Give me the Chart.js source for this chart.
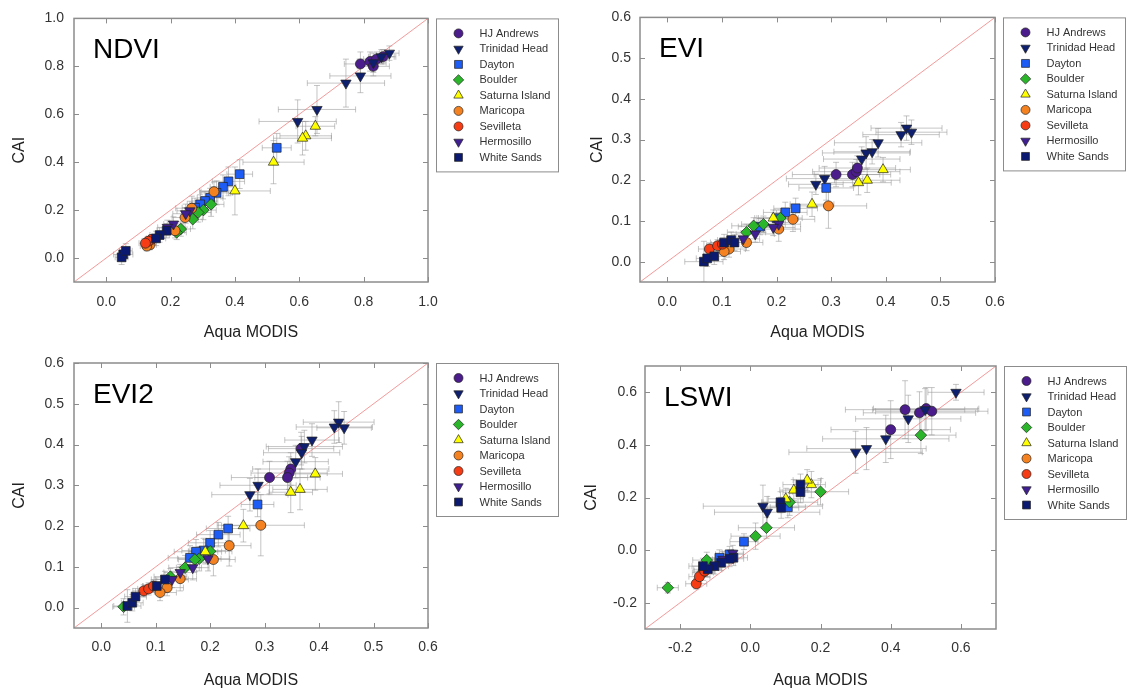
<!DOCTYPE html>
<html>
<head>
<meta charset="utf-8">
<script src="https://cdn.jsdelivr.net/npm/chart.js@4.4.1/dist/chart.umd.min.js"></script>
<style>
  html, body { margin: 0; padding: 0; background: #fff; }
  body { width: 1129px; height: 695px; position: relative; overflow: hidden; }
  canvas { position: absolute; }
</style>
</head>
<body>
<canvas id="ndvi" width="565" height="340" style="left:0;top:0"></canvas>
<canvas id="evi" width="564" height="340" style="left:565px;top:0"></canvas>
<canvas id="evi2" width="565" height="355" style="left:0;top:340px"></canvas>
<canvas id="lswi" width="564" height="355" style="left:565px;top:340px"></canvas>
<script>
// sites, legend order
const sites = ['HJ Andrews', 'Trinidad Head', 'Dayton', 'Boulder', 'Saturna Island',
               'Maricopa', 'Sevilleta', 'Hermosillo', 'White Sands'];
const siteColors = ['#4b1d8c', '#0d1f6e', '#1d5cf5', '#2bb52b', '#ffff00',
                    '#f58220', '#f53c14', '#3f1f91', '#0b1a70'];
const siteShapes = ['circle', 'triangleDown', 'rect', 'rectRot', 'triangle',
                    'circle', 'circle', 'triangleDown', 'rect'];

// each point: [Aqua MODIS, CAI, x error, y error], one list per site (same order as sites)
const ndvi = [
  [[0.79,0.81,0.05,0.05],[0.82,0.82,0.04,0.04],[0.83,0.80,0.05,0.04],[0.84,0.83,0.04,0.03],[0.86,0.84,0.04,0.03]],
  [[0.88,0.855,0.03,0.03],[0.855,0.84,0.04,0.03],[0.83,0.815,0.04,0.04],[0.79,0.76,0.095,0.07],[0.745,0.73,0.12,0.10],[0.655,0.62,0.12,0.10],[0.595,0.57,0.12,0.09]],
  [[0.53,0.46,0.045,0.06],[0.415,0.35,0.04,0.06],[0.38,0.32,0.05,0.06],[0.363,0.297,0.04,0.05],[0.343,0.272,0.05,0.05],[0.323,0.251,0.04,0.04],[0.307,0.238,0.04,0.04],[0.292,0.224,0.04,0.04],[0.276,0.21,0.04,0.04]],
  [[0.326,0.224,0.04,0.05],[0.302,0.2,0.04,0.04],[0.286,0.19,0.04,0.04],[0.269,0.162,0.03,0.04],[0.232,0.121,0.03,0.03],[0.219,0.107,0.03,0.03]],
  [[0.65,0.55,0.06,0.04],[0.62,0.51,0.08,0.06],[0.61,0.50,0.09,0.07],[0.52,0.40,0.095,0.09],[0.40,0.28,0.11,0.10]],
  [[0.335,0.277,0.04,0.04],[0.266,0.208,0.05,0.05],[0.245,0.169,0.04,0.04],[0.214,0.114,0.03,0.03],[0.136,0.055,0.02,0.02],[0.126,0.05,0.02,0.02]],
  [[0.141,0.078,0.02,0.02],[0.131,0.07,0.02,0.02],[0.122,0.062,0.02,0.02]],
  [[0.26,0.197,0.04,0.04],[0.247,0.185,0.04,0.04],[0.209,0.142,0.03,0.03],[0.19,0.128,0.03,0.03]],
  [[0.188,0.114,0.03,0.03],[0.166,0.096,0.03,0.03],[0.155,0.082,0.03,0.03],[0.053,0.015,0.03,0.03],[0.048,0.003,0.02,0.03],[0.061,0.03,0.02,0.03]]
];
const evi = [
  [[0.309,0.214,0.08,0.03],[0.339,0.214,0.07,0.03],[0.346,0.221,0.08,0.03],[0.348,0.23,0.07,0.03]],
  [[0.438,0.328,0.065,0.03],[0.447,0.318,0.065,0.03],[0.428,0.312,0.07,0.03],[0.386,0.292,0.08,0.035],[0.375,0.27,0.07,0.03],[0.364,0.267,0.08,0.04],[0.356,0.252,0.07,0.03],[0.288,0.204,0.07,0.03],[0.272,0.19,0.05,0.025]],
  [[0.291,0.181,0.05,0.03],[0.235,0.131,0.04,0.025],[0.216,0.121,0.04,0.025],[0.2,0.107,0.04,0.02],[0.17,0.086,0.04,0.02]],
  [[0.207,0.107,0.04,0.02],[0.176,0.092,0.04,0.02],[0.158,0.088,0.04,0.02],[0.145,0.072,0.035,0.02]],
  [[0.395,0.226,0.05,0.03],[0.366,0.2,0.06,0.03],[0.35,0.194,0.06,0.03],[0.265,0.141,0.04,0.03],[0.194,0.107,0.03,0.02]],
  [[0.295,0.137,0.07,0.055],[0.23,0.104,0.04,0.03],[0.204,0.08,0.04,0.03],[0.145,0.047,0.03,0.02],[0.113,0.031,0.03,0.02],[0.104,0.025,0.03,0.02]],
  [[0.077,0.031,0.02,0.015],[0.092,0.039,0.02,0.015],[0.101,0.043,0.02,0.015]],
  [[0.204,0.092,0.04,0.02],[0.194,0.084,0.04,0.02],[0.161,0.068,0.035,0.02],[0.139,0.056,0.03,0.02]],
  [[0.067,0.0,0.035,0.05],[0.073,0.008,0.02,0.02],[0.086,0.013,0.02,0.02],[0.104,0.047,0.025,0.02],[0.117,0.053,0.025,0.02],[0.123,0.047,0.025,0.02]]
];
const evi2 = [
  [[0.367,0.39,0.06,0.04],[0.348,0.34,0.07,0.04],[0.345,0.33,0.07,0.04],[0.342,0.319,0.06,0.04],[0.309,0.319,0.07,0.04]],
  [[0.436,0.455,0.065,0.05],[0.428,0.443,0.07,0.04],[0.446,0.441,0.05,0.04],[0.387,0.411,0.05,0.04],[0.373,0.395,0.07,0.04],[0.368,0.38,0.07,0.04],[0.357,0.358,0.06,0.04],[0.288,0.3,0.07,0.04],[0.273,0.277,0.07,0.04]],
  [[0.287,0.253,0.03,0.03],[0.233,0.194,0.04,0.03],[0.215,0.179,0.04,0.03],[0.2,0.159,0.04,0.03],[0.188,0.14,0.04,0.03],[0.174,0.137,0.04,0.03],[0.163,0.122,0.04,0.03]],
  [[0.2,0.138,0.04,0.03],[0.18,0.12,0.04,0.03],[0.172,0.118,0.03,0.03],[0.154,0.098,0.03,0.03],[0.127,0.076,0.03,0.02],[0.041,0.002,0.02,0.02]],
  [[0.393,0.328,0.05,0.04],[0.365,0.29,0.05,0.05],[0.348,0.283,0.04,0.05],[0.261,0.201,0.04,0.04],[0.191,0.137,0.03,0.03]],
  [[0.293,0.202,0.08,0.075],[0.235,0.152,0.04,0.05],[0.206,0.118,0.04,0.04],[0.145,0.071,0.03,0.03],[0.121,0.049,0.03,0.02],[0.108,0.037,0.03,0.02]],
  [[0.078,0.041,0.02,0.015],[0.087,0.046,0.02,0.015],[0.096,0.053,0.02,0.015]],
  [[0.196,0.12,0.04,0.03],[0.168,0.098,0.03,0.03],[0.145,0.086,0.03,0.02],[0.13,0.069,0.03,0.02]],
  [[0.048,0.004,0.025,0.04],[0.057,0.012,0.02,0.02],[0.063,0.027,0.02,0.02],[0.102,0.053,0.025,0.02],[0.117,0.069,0.025,0.02]]
];
const lswi = [
  [[0.441,0.534,0.17,0.11],[0.4,0.458,0.17,0.11],[0.501,0.538,0.15,0.08],[0.517,0.528,0.16,0.09],[0.482,0.522,0.16,0.08]],
  [[0.586,0.6,0.08,0.03],[0.45,0.499,0.15,0.09],[0.498,0.534,0.15,0.08],[0.386,0.423,0.18,0.09],[0.331,0.386,0.17,0.08],[0.3,0.372,0.19,0.08],[0.036,0.167,0.17,0.08],[0.048,0.144,0.15,0.06]],
  [[0.107,0.163,0.05,0.04],[-0.018,0.032,0.04,0.03],[-0.059,-0.016,0.04,0.03],[-0.088,-0.029,0.04,0.03],[-0.126,-0.061,0.04,0.03]],
  [[0.486,0.437,0.1,0.07],[0.2,0.222,0.08,0.05],[0.112,0.182,0.08,0.05],[0.046,0.085,0.08,0.04],[0.015,0.053,0.07,0.05],[-0.124,-0.038,0.04,0.03],[-0.235,-0.143,0.03,0.02]],
  [[0.174,0.249,0.04,0.05],[0.162,0.266,0.04,0.04],[0.124,0.228,0.04,0.04],[0.101,0.195,0.05,0.04]],
  [[-0.135,-0.085,0.03,0.03]],
  [[-0.154,-0.128,0.03,0.02],[-0.145,-0.101,0.03,0.02],[-0.13,-0.08,0.03,0.02]],
  [[-0.05,-0.012,0.03,0.03],[-0.078,-0.035,0.03,0.03]],
  [[0.143,0.249,0.05,0.04],[0.143,0.22,0.05,0.04],[0.086,0.182,0.05,0.04],[0.088,0.161,0.05,0.04],[-0.048,-0.029,0.04,0.03],[-0.059,-0.033,0.04,0.03],[-0.083,-0.048,0.04,0.03],[-0.102,-0.061,0.04,0.03],[-0.121,-0.073,0.04,0.03],[-0.135,-0.061,0.04,0.03]]
];

// tick labels
const ndviTicks = [0, 0.2, 0.4, 0.6, 0.8, 1.0];
const eviTicks = [0, 0.1, 0.2, 0.3, 0.4, 0.5, 0.6];
const lswiTicks = [-0.2, 0, 0.2, 0.4, 0.6];

const FONT = '"Liberation Sans", Arial, sans-serif';
Chart.defaults.font.family = FONT;

function shapePath(ctx, shape, x, y, r) {
    ctx.beginPath();
    if (shape === 'circle') {
        ctx.arc(x, y, r, 0, Math.PI * 2);
    } else if (shape === 'rect') {
        const s = r * Math.SQRT1_2;
        ctx.rect(x - s, y - s, 2 * s, 2 * s);
    } else if (shape === 'rectRot') {
        ctx.moveTo(x, y - r); ctx.lineTo(x + r, y); ctx.lineTo(x, y + r); ctx.lineTo(x - r, y);
        ctx.closePath();
    } else {
        const d = shape === 'triangle' ? -1 : 1;
        ctx.moveTo(x, y + d * r);
        ctx.lineTo(x + r * 0.866, y - d * r * 0.5);
        ctx.lineTo(x - r * 0.866, y - d * r * 0.5);
        ctx.closePath();
    }
}

function radiusFor(shape) {
    return { circle: 5, rect: 6.2, rectRot: 5.8, triangle: 6, triangleDown: 6 }[shape];
}

const panelPlugin = {
    id: 'panelPlugin',
    beforeDatasetsDraw(chart) {
        // error bars under the markers
        const { ctx, chartArea: a, scales: { x, y } } = chart;
        ctx.save();
        ctx.beginPath();
        ctx.rect(a.left, a.top, a.right - a.left, a.bottom - a.top);
        ctx.clip();
        ctx.strokeStyle = 'rgba(150,150,150,0.55)';
        ctx.lineWidth = 1;
        chart.data.datasets.forEach(ds => {
            if (!ds.site) return;
            ds.data.forEach(p => {
                const px = x.getPixelForValue(p.x), py = y.getPixelForValue(p.y);
                const x0 = x.getPixelForValue(p.x - p.ex), x1 = x.getPixelForValue(p.x + p.ex);
                const y0 = y.getPixelForValue(p.y - p.ey), y1 = y.getPixelForValue(p.y + p.ey);
                ctx.beginPath();
                ctx.moveTo(x0, py); ctx.lineTo(x1, py);
                ctx.moveTo(x0, py - 3); ctx.lineTo(x0, py + 3);
                ctx.moveTo(x1, py - 3); ctx.lineTo(x1, py + 3);
                ctx.moveTo(px, y0); ctx.lineTo(px, y1);
                ctx.moveTo(px - 3, y0); ctx.lineTo(px + 3, y0);
                ctx.moveTo(px - 3, y1); ctx.lineTo(px + 3, y1);
                ctx.stroke();
            });
        });
        ctx.restore();
    },
    afterDraw(chart, args, opts) {
        const { ctx, chartArea: a, scales: { x, y } } = chart;
        ctx.save();
        // frame with inward ticks on all sides
        ctx.strokeStyle = '#8c8c8c';
        ctx.lineWidth = 1.5;
        ctx.strokeRect(a.left, a.top, a.right - a.left, a.bottom - a.top);
        ctx.beginPath();
        x.ticks.forEach(t => {
            const px = Math.round(x.getPixelForValue(t.value)) + 0.5;
            ctx.moveTo(px, a.bottom); ctx.lineTo(px, a.bottom - 5);
            ctx.moveTo(px, a.top); ctx.lineTo(px, a.top + 5);
        });
        y.ticks.forEach(t => {
            const py = Math.round(y.getPixelForValue(t.value)) + 0.5;
            ctx.moveTo(a.left, py); ctx.lineTo(a.left + 5, py);
            ctx.moveTo(a.right, py); ctx.lineTo(a.right - 5, py);
        });
        ctx.lineWidth = 1;
        ctx.stroke();

        // panel label
        ctx.fillStyle = '#000';
        ctx.font = '28px ' + FONT;
        ctx.textBaseline = 'alphabetic';
        ctx.fillText(opts.text, a.left + 19, a.top + 40);

        // legend box
        const bx = a.right + 8.5, by = a.top, bw = 122, bh = 153;
        ctx.strokeStyle = '#8c8c8c';
        ctx.lineWidth = 1;
        ctx.strokeRect(bx, by + 0.5, bw, bh);
        ctx.font = '11px ' + FONT;
        ctx.textBaseline = 'middle';
        chart.data.datasets.filter(ds => ds.site).forEach((ds, i) => {
            const cy = by + 15 + i * 15.5;
            shapePath(ctx, ds.shape, bx + 22, cy, ds.pointRadius * 0.9);
            ctx.fillStyle = ds.backgroundColor;
            ctx.fill();
            ctx.strokeStyle = '#222';
            ctx.lineWidth = 0.7;
            ctx.stroke();
            ctx.fillStyle = '#333';
            ctx.fillText(ds.label, bx + 43, cy + 0.5);
        });
        ctx.restore();
    }
};

function fmt(v) {
    if (Math.abs(v) < 1e-9) v = 0;
    return v.toFixed(1);
}

function makePanel(id, label, sets, min, max, ticks, box) {
    const canvas = document.getElementById(id);
    const W = canvas.width, H = canvas.height;
    const datasets = sets.map((pts, i) => ({
        label: sites[i],
        site: true,
        shape: siteShapes[i],
        order: 9 - i,
        data: pts.map(p => ({ x: p[0], y: p[1], ex: p[2], ey: p[3] })),
        pointStyle: siteShapes[i] === 'triangleDown' ? 'triangle' : siteShapes[i],
        rotation: siteShapes[i] === 'triangleDown' ? 180 : 0,
        pointRadius: radiusFor(siteShapes[i]),
        backgroundColor: siteColors[i],
        borderColor: '#222',
        borderWidth: 0.7
    }));
    // 1:1 line
    datasets.push({
        label: '1:1',
        data: [{ x: min, y: min }, { x: max, y: max }],
        showLine: true,
        pointRadius: 0,
        borderColor: 'rgba(240,120,120,0.75)',
        borderWidth: 1,
        order: 100
    });

    const axisTicks = (pad) => ({
        padding: pad,
        color: '#333',
        font: { size: 14 },
        callback: v => fmt(v)
    });

    new Chart(canvas, {
        type: 'scatter',
        data: { datasets: datasets },
        options: {
            responsive: false,
            animation: false,
            events: [],
            layout: { padding: { left: 0, top: box.top, right: W - box.right, bottom: 0 } },
            plugins: {
                legend: { display: false },
                tooltip: { enabled: false },
                panelPlugin: { text: label }
            },
            scales: {
                x: {
                    type: 'linear',
                    min: min,
                    max: max,
                    afterBuildTicks: s => { s.ticks = ticks.map(v => ({ value: v })); },
                    afterFit: s => { s.height = H - box.bottom; },
                    grid: { display: false, drawTicks: false },
                    border: { display: false },
                    ticks: axisTicks(box.xPad),
                    title: {
                        display: true,
                        text: 'Aqua MODIS',
                        color: '#222',
                        font: { size: 16 },
                        padding: { top: 0, bottom: box.xTitle }
                    }
                },
                y: {
                    type: 'linear',
                    min: min,
                    max: max,
                    afterBuildTicks: s => { s.ticks = ticks.map(v => ({ value: v })); },
                    afterFit: s => { s.width = box.left; },
                    grid: { display: false, drawTicks: false },
                    border: { display: false },
                    ticks: axisTicks(box.yPad),
                    title: {
                        display: true,
                        text: 'CAI',
                        color: '#222',
                        font: { size: 16 },
                        padding: { top: box.yTitle, bottom: 0 }
                    }
                }
            }
        },
        plugins: [panelPlugin]
    });
}

makePanel('ndvi', 'NDVI', ndvi, -0.1, 1.0, ndviTicks,
    { left: 74, top: 15, right: 428, bottom: 282, xPad: 12, yPad: 10, xTitle: -2, yTitle: 10 });
makePanel('evi', 'EVI', evi, -0.05, 0.6, eviTicks,
    { left: 75, top: 15, right: 430, bottom: 282, xPad: 12, yPad: 9, xTitle: -2, yTitle: 23 });
makePanel('evi2', 'EVI2', evi2, -0.05, 0.6, eviTicks,
    { left: 74, top: 23, right: 428, bottom: 288, xPad: 11, yPad: 10, xTitle: 5, yTitle: 10 });
makePanel('lswi', 'LSWI', lswi, -0.3, 0.7, lswiTicks,
    { left: 80, top: 26, right: 431, bottom: 289, xPad: 11, yPad: 8, xTitle: 5, yTitle: 17 });
</script>
</body>
</html>
